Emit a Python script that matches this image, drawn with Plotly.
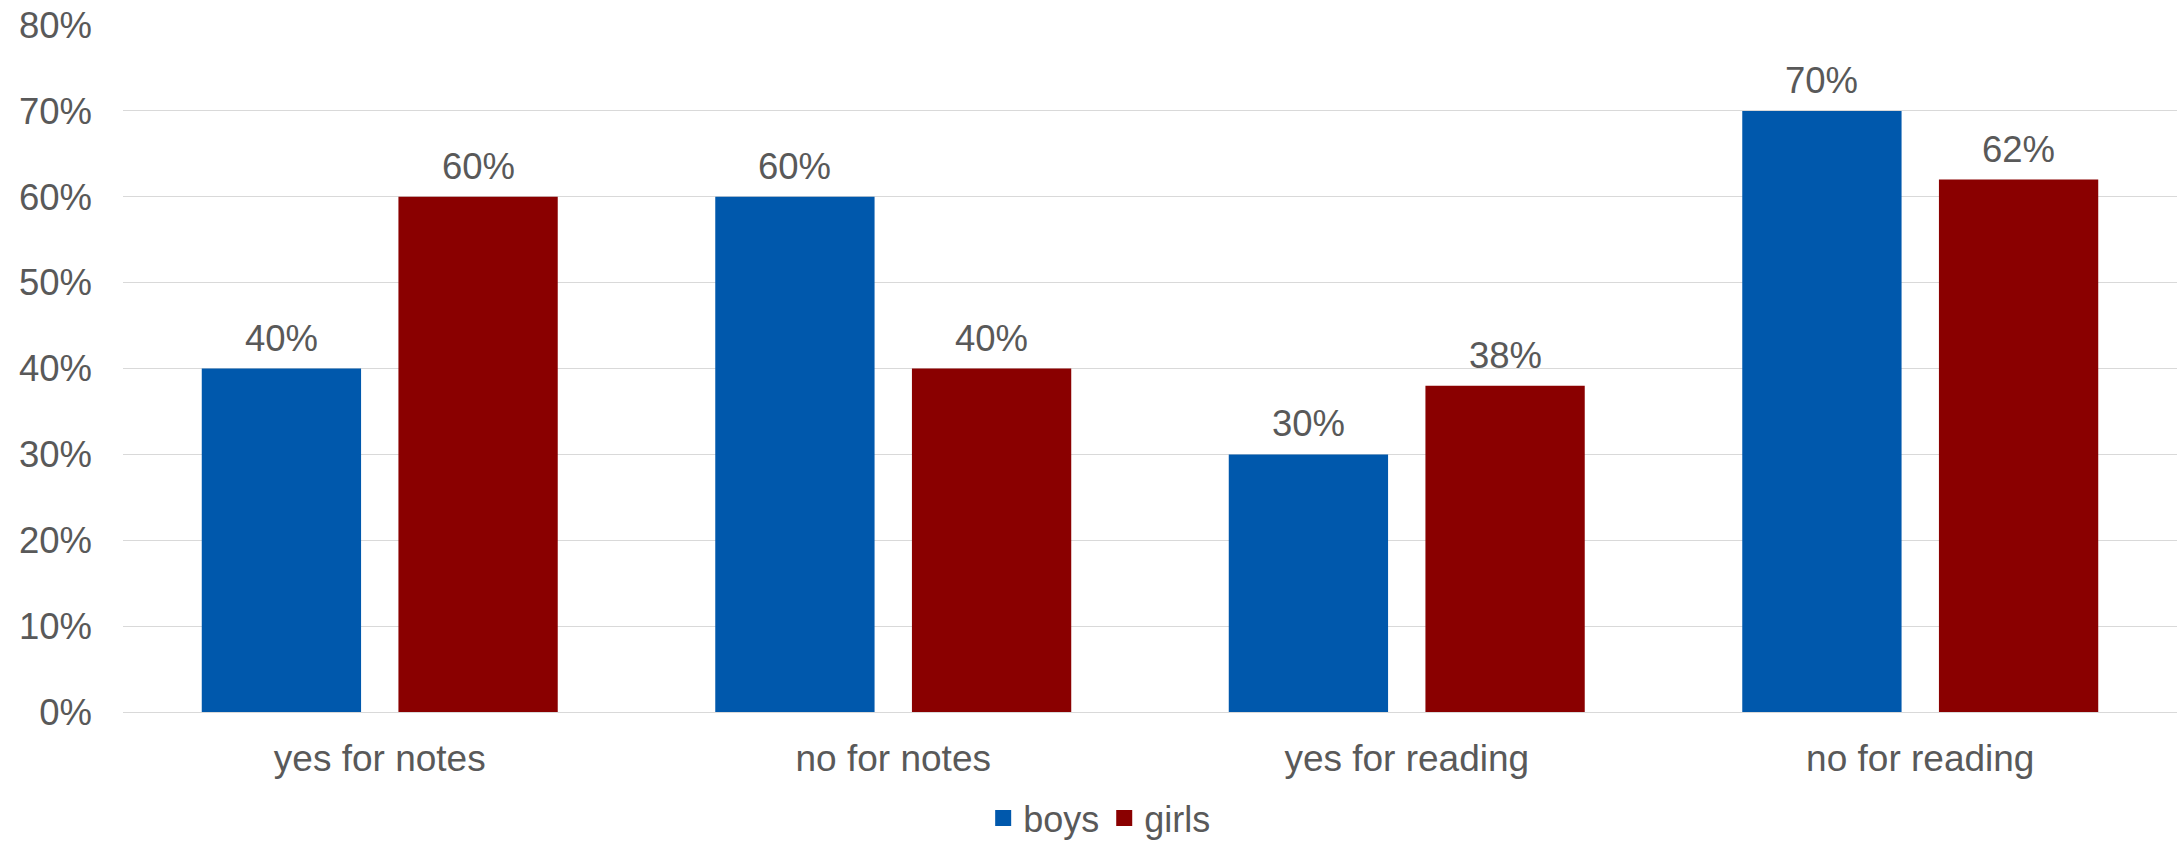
import plotly.graph_objects as go

categories = ["yes for notes", "no for notes", "yes for reading", "no for reading"]
boys = [40, 60, 30, 70]
girls = [60, 40, 38, 62]
series_names = ["boys", "girls"]
y_ticks = [0, 10, 20, 30, 40, 50, 60, 70, 80]
y_tick_labels = ["0%", "10%", "20%", "30%", "40%", "50%", "60%", "70%", "80%"]

BLUE = "#0058AC"
RED = "#8A0000"
TXT = "#595959"
FONT = "Liberation Sans, Arial, sans-serif"
FS = 36.5

W, H = 2182, 843
ML, MR, MT, MB = 123, 5, 25, 131
BARGAP = 0.234
GROUPGAP = 0.19

fig = go.Figure()
for name, vals, col in [(series_names[0], boys, BLUE), (series_names[1], girls, RED)]:
    fig.add_trace(go.Bar(
        x=categories, y=vals, name=name, showlegend=False,
        marker=dict(color=col, line=dict(width=0)),
        hovertemplate="%{x}: %{y}%<extra>" + name + "</extra>",
    ))
# legend-only square markers
for name, col in [(series_names[0], BLUE), (series_names[1], RED)]:
    fig.add_trace(go.Scatter(
        x=[None], y=[None], mode="markers", name=name,
        marker=dict(symbol="square", size=21, color=col),
    ))

# value labels as annotations
plot_w = W - ML - MR
cat_w = plot_w / len(categories)
off = cat_w * (1 - BARGAP) / 4
for vals, sign in [(boys, -1), (girls, 1)]:
    for c, v in zip(categories, vals):
        fig.add_annotation(
            x=c, y=v, text=f"{v}%", showarrow=False,
            xshift=sign * off, yshift=8, yanchor="bottom",
            font=dict(family=FONT, size=FS, color=TXT),
        )

fig.update_layout(
    width=W, height=H,
    margin=dict(l=ML, r=MR, t=MT, b=MB, autoexpand=False),
    paper_bgcolor="white", plot_bgcolor="white",
    barmode="group", bargap=BARGAP, bargroupgap=GROUPGAP,
    font=dict(family=FONT, size=FS, color=TXT),
    legend=dict(orientation="h", x=0.4755, xanchor="center",
                yref="container", y=1 - 818 / H, yanchor="middle",
                font=dict(family=FONT, size=36, color=TXT), itemwidth=30,
                tracegroupgap=0),
    xaxis=dict(showgrid=False, showline=False, ticks="", zeroline=False,
               tickfont=dict(family=FONT, size=37, color=TXT), ticklabelstandoff=21),
    yaxis=dict(range=[0, 80], tickvals=y_ticks, ticktext=y_tick_labels, showgrid=True,
               gridcolor="#D9D9D9", gridwidth=1.3, zeroline=True, zerolinecolor="#D9D9D9",
               zerolinewidth=1.3, showline=False, ticks="",
               tickfont=dict(family=FONT, size=FS, color=TXT), ticklabelstandoff=30),
)

fig.write_html("out.html")
